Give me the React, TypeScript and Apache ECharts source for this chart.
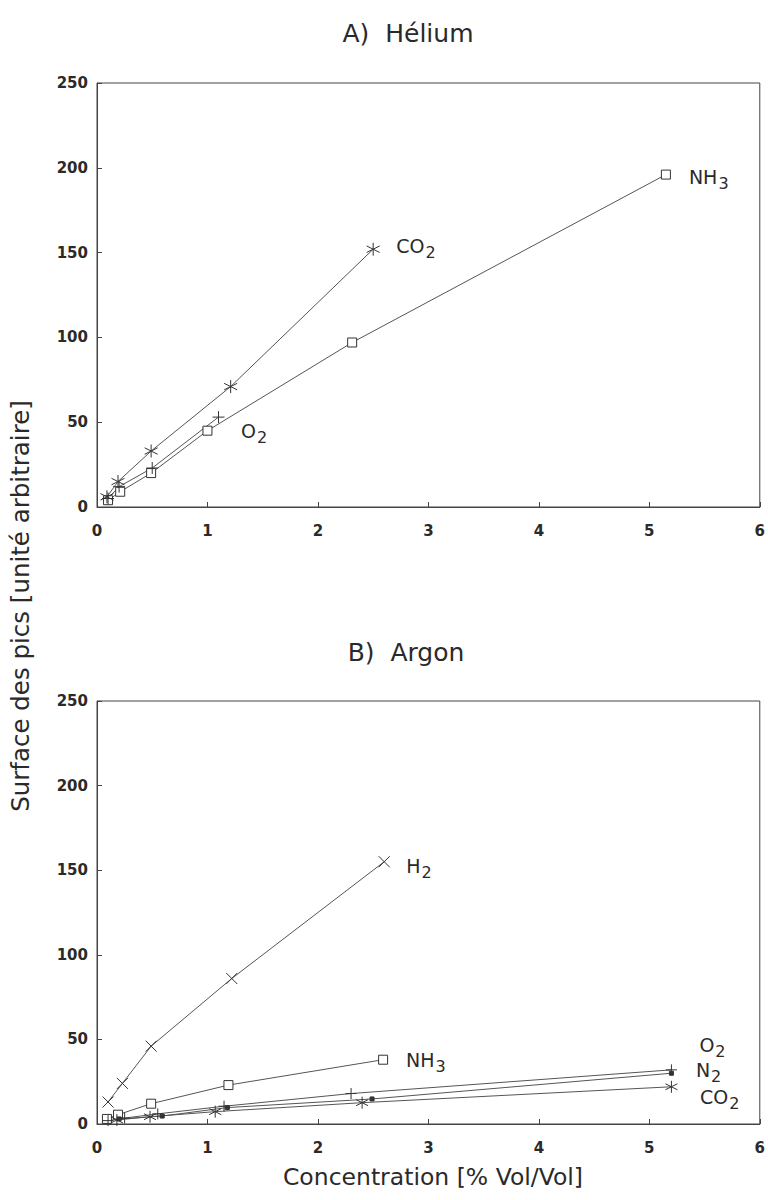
import React, { useEffect, useRef } from "react";
import * as echarts from "echarts";

// Helium panel (A)
const heCO2X = [0.09, 0.19, 0.49, 1.21, 2.5];
const heCO2Y = [6, 15, 33, 71, 152];
const heNH3X = [0.1, 0.21, 0.49, 1.0, 2.31, 5.15];
const heNH3Y = [4, 9, 20, 45, 97, 196];
const heO2X = [0.1, 0.2, 0.5, 1.1];
const heO2Y = [5, 12, 23, 53];

// Argon panel (B)
const arH2X = [0.1, 0.23, 0.49, 1.22, 2.6];
const arH2Y = [13, 24, 46, 86, 155];
const arNH3X = [0.09, 0.19, 0.49, 1.19, 2.59];
const arNH3Y = [3, 5.5, 12, 23, 38];
const arO2X = [0.1, 0.25, 0.55, 1.15, 2.3, 5.2];
const arO2Y = [2, 3.5, 6, 10.5, 18, 32];
const arN2X = [0.2, 0.59, 1.18, 2.49, 5.2];
const arN2Y = [3, 4.7, 9.7, 14.8, 30];
const arCO2X = [0.18, 0.48, 1.07, 2.4, 5.2];
const arCO2Y = [2.4, 4.3, 7.3, 12.6, 22];

const titles = ["A)  Hélium", "B)  Argon"];
const yName = "Surface des pics [unité arbitraire]";
const xName = "Concentration [% Vol/Vol]";

const LINE = "#555";
const INK = "#2a2a2a";
const FONT = "DejaVu Sans";

const SYM_AST = "path://M0,-10L0,10M-8.66,-5L8.66,5M-8.66,5L8.66,-5";
const SYM_X = "path://M-10,-10L10,10M-10,10L10,-10";
const SYM_PLUS = "path://M-10,0L10,0M0,-10L0,10";

const rich = {
  m: { fontFamily: FONT, fontSize: 19, color: INK },
  s: { fontFamily: FONT, fontSize: 16, color: INK, padding: [13, 0, 0, 1] },
};

function pairs(xs: number[], ys: number[], label?: { text: string; offset: number[]; distance?: number }) {
  return xs.map((x, i) => {
    if (label && i === xs.length - 1) {
      return {
        value: [x, ys[i]],
        label: {
          show: true,
          position: "right",
          distance: label.distance ?? 14,
          offset: label.offset,
          formatter: label.text,
          rich,
        },
      };
    }
    return [x, ys[i]];
  });
}

function series(
  idx: number,
  xs: number[],
  ys: number[],
  symbol: string,
  size: number,
  label?: { text: string; offset: number[]; distance?: number },
  filled?: boolean
) {
  return {
    type: "line",
    xAxisIndex: idx,
    yAxisIndex: idx,
    data: pairs(xs, ys, label),
    symbol,
    symbolSize: size,
    showAllSymbol: true,
    lineStyle: { color: LINE, width: 1 },
    itemStyle: {
      color: filled ? "#333" : "#fff",
      borderColor: "#333",
      borderWidth: 1,
    },
    label: { show: false },
    emphasis: { disabled: true },
    z: 3,
  };
}

export default function App() {
  const ref = useRef<HTMLDivElement>(null);
  useEffect(() => {
    if (!ref.current) return;
    const chart = echarts.init(ref.current, undefined, { renderer: "svg" });
    const grids = [
      { left: 97, right: 6, top: 83, height: 424 },
      { left: 97, right: 6, top: 701, height: 423 },
    ].map((g) => ({ ...g, show: true, borderColor: "#444", borderWidth: 1, backgroundColor: "transparent" }));

    const xAxis = [0, 1].map((i) => ({
      type: "value",
      gridIndex: i,
      min: 0,
      max: 6,
      interval: 1,
      axisLine: { show: true, onZero: false, lineStyle: { color: "#444", width: 1 } },
      axisTick: { show: true, inside: true, length: 5, lineStyle: { color: "#444" } },
      splitLine: { show: false },
      axisLabel: { fontFamily: FONT, fontSize: 15, fontWeight: "bold", color: INK, margin: 16 },
    }));
    const yAxis = [0, 1].map((i) => ({
      type: "value",
      gridIndex: i,
      min: 0,
      max: 250,
      interval: 50,
      axisLine: { show: true, onZero: false, lineStyle: { color: "#444", width: 1 } },
      axisTick: { show: true, inside: true, length: 5, lineStyle: { color: "#444" } },
      splitLine: { show: false },
      axisLabel: { fontFamily: FONT, fontSize: 15, fontWeight: "bold", color: INK, margin: 9 },
    }));

    chart.setOption({
      animation: false,
      backgroundColor: "#fff",
      grid: grids,
      xAxis,
      yAxis,
      graphic: [
        { type: "text", x: 408, y: 33, style: { text: titles[0], fontFamily: FONT, fontSize: 25, fill: INK, textAlign: "center", textVerticalAlign: "middle" } },
        { type: "text", x: 406, y: 652, style: { text: titles[1], fontFamily: FONT, fontSize: 25, fill: INK, textAlign: "center", textVerticalAlign: "middle" } },
        { type: "text", x: 20, y: 606, rotation: Math.PI / 2, style: { text: yName, fontFamily: FONT, fontSize: 24.5, fill: INK, textAlign: "center", textVerticalAlign: "middle" } },
        { type: "text", x: 433, y: 1177, style: { text: xName, fontFamily: FONT, fontSize: 23.5, fill: INK, textAlign: "center", textVerticalAlign: "middle" } },
      ],
      series: [
        series(0, heNH3X, heNH3Y, "rect", 9, { text: "{m|NH}{s|3}", offset: [4, 2] }),
        series(0, heO2X, heO2Y, SYM_PLUS, 12, { text: "{m|O}{s|2}", offset: [2, 14] }),
        series(0, heCO2X, heCO2Y, SYM_AST, 13, { text: "{m|CO}{s|2}", offset: [2, -3] }),
        series(1, arH2X, arH2Y, SYM_X, 11, { text: "{m|H}{s|2}", offset: [2, 4] }),
        series(1, arNH3X, arNH3Y, "rect", 9, { text: "{m|NH}{s|3}", offset: [4, 0] }),
        series(1, arO2X, arO2Y, SYM_PLUS, 11, { text: "{m|O}{s|2}", offset: [8, -25] }),
        series(1, arN2X, arN2Y, "rect", 4, { text: "{m|N}{s|2}", offset: [8, -3] }, true),
        series(1, arCO2X, arCO2Y, SYM_AST, 12, { text: "{m|CO}{s|2}", offset: [8, 10] }),
      ],
    });
    return () => chart.dispose();
  }, []);
  return <div ref={ref} style={{ position: "absolute", left: 0, top: 0, width: 768, height: 1200 }} />;
}
